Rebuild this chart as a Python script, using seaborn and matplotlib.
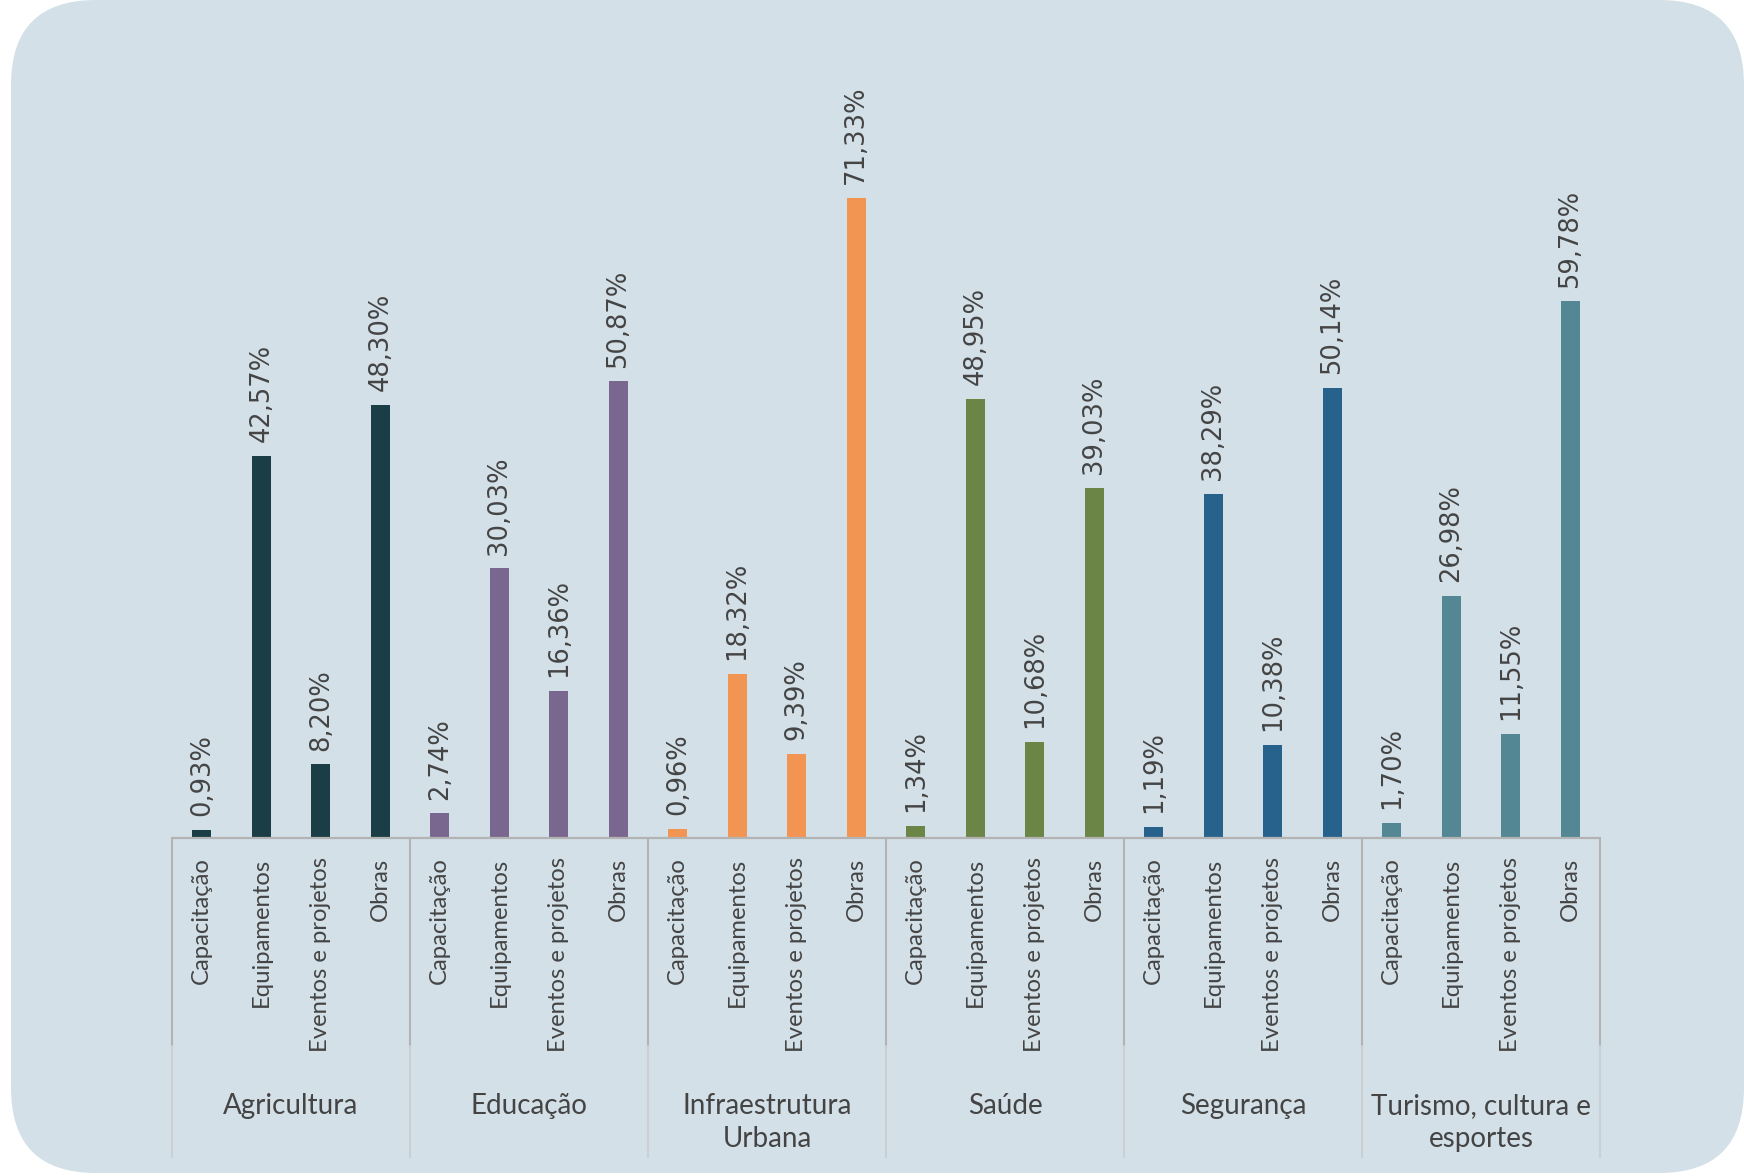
import numpy as np
import pandas as pd
import matplotlib
matplotlib.use("Agg")
import matplotlib.pyplot as plt
import matplotlib.patches as mpatches
from matplotlib.transforms import IdentityTransform, blended_transform_factory
import seaborn as sns

# ================= DATA =================
grupos = ["Agricultura", "Educação", "Infraestrutura\nUrbana", "Saúde",
          "Segurança", "Turismo, cultura e\nesportes"]
tipos = ["Capacitação", "Equipamentos", "Eventos e projetos", "Obras"]

agricultura = [0.93, 42.57, 8.20, 48.30]
educacao = [2.74, 30.03, 16.36, 50.87]
infraestrutura = [0.96, 18.32, 9.39, 71.33]
saude = [1.34, 48.95, 10.68, 39.03]
seguranca = [1.19, 38.29, 10.38, 50.14]
turismo = [1.70, 26.98, 11.55, 59.78]

cores = ["#1b3d46", "#7a678f", "#f29552", "#6b8546", "#27628c", "#528793"]

valores = [agricultura, educacao, infraestrutura, saude, seguranca, turismo]
rows = []
for g, vals in zip(grupos, valores):
    for t, v in zip(tipos, vals):
        rows.append({"grupo": g, "tipo": t, "chave": g + "|" + t, "valor": v})
df = pd.DataFrame(rows)

# ================= STYLE =================
sns.set_theme(style="white")
plt.rcParams["font.family"] = ["DejaVu Sans"]
TXT = "#444444"
LABEL_FONT = ["Lato", "DejaVu Sans"]

W, H = 1744, 1176
fig = plt.figure(figsize=(W / 100, H / 100), dpi=100)
fig.patch.set_facecolor("white")

# rounded background panel
bg = mpatches.FancyBboxPatch((11, 3), W - 11, H - 3,
                             boxstyle="round,pad=0,rounding_size=85",
                             transform=IdentityTransform(),
                             facecolor="#d3e0e8", edgecolor="none", zorder=-5)
fig.patches.append(bg)

ax_left, ax_right, ax_base, ax_top = 172, 1600, 838, 120
ax = fig.add_axes([ax_left / W, (H - ax_base) / H,
                   (ax_right - ax_left) / W, (ax_base - ax_top) / H])
ax.set_facecolor("none")

sns.barplot(data=df, x="chave", y="valor", hue="grupo", order=list(df["chave"]),
            hue_order=grupos, palette=cores, dodge=False, width=0.32,
            legend=False, ax=ax, saturation=1, edgecolor="none", linewidth=0)

ax.set_xlim(-0.5, len(df) - 0.5)
ax.set_ylim(0, 80)
for s in ["top", "right", "left", "bottom"]:
    ax.spines[s].set_visible(False)
ax.axhline(0, color="#b3b3b3", lw=1.6, zorder=3, clip_on=False)
ax.set_yticks([])
ax.set_xlabel("")
ax.set_ylabel("")

ax.set_xticks(range(len(df)))
ax.set_xticklabels(df["tipo"], rotation=90, fontsize=17.2, color=TXT,
                   family=LABEL_FONT)
ax.tick_params(axis="x", length=0, pad=14)

# value labels
for i, v in enumerate(df["valor"]):
    ax.annotate(f"{v:.2f}%".replace(".", ","), (i, v), xytext=(0, 10),
                textcoords="offset points", rotation=90, ha="center",
                va="bottom", fontsize=18.5, color=TXT)

# group separators and labels
tr = blended_transform_factory(ax.transData, fig.transFigure)
y0 = (H - ax_base) / H
y1 = (H - 1046) / H
y2 = (H - 1157) / H
for k in range(len(grupos) + 1):
    xb = k * 4 - 0.5
    ax.plot([xb, xb], [y0, y1], transform=tr, color="#b3b3b3", lw=1.5,
            clip_on=False)
    ax.plot([xb, xb], [y1, y2], transform=tr, color="#c9cfd3", lw=1.5,
            clip_on=False)
for k, g in enumerate(grupos):
    ax.text(k * 4 + 1.5, (H - 1093) / H, g, transform=tr, ha="center",
            va="top", fontsize=20, color=TXT, family=LABEL_FONT,
            linespacing=1.32)

fig.savefig("out.png", dpi=100)
